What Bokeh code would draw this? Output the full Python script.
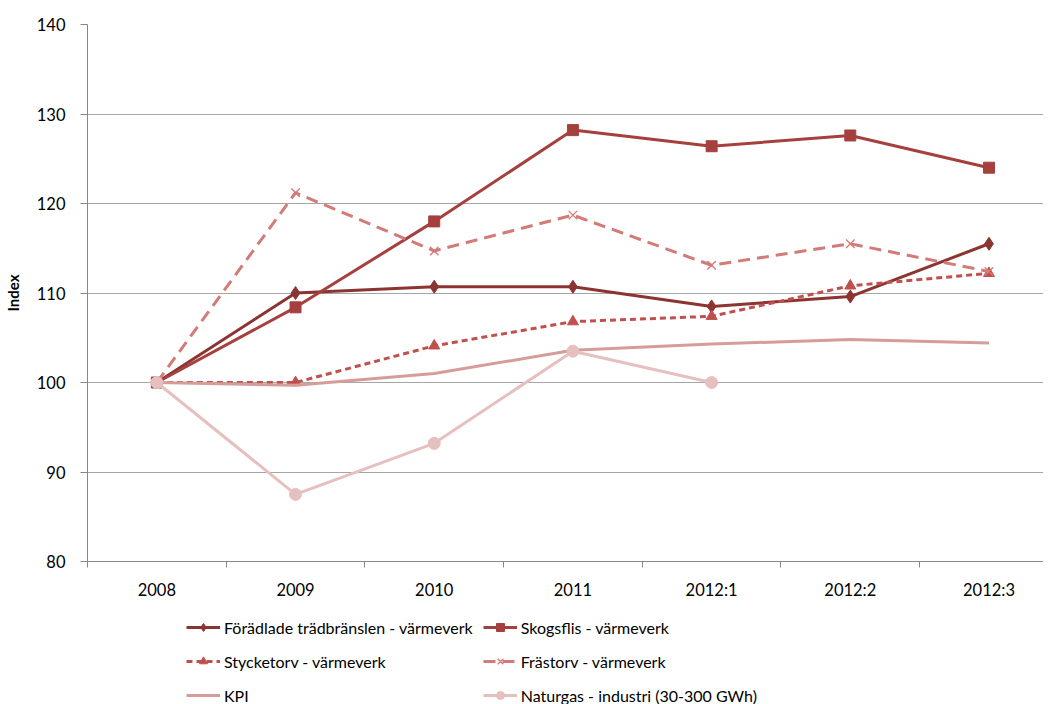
from bokeh.plotting import figure
from bokeh.layouts import column
from bokeh.models import Range1d, FixedTicker, Legend, LegendItem
from bokeh.embed import file_html
from bokeh.resources import INLINE

categories = ["2008", "2009", "2010", "2011", "2012:1", "2012:2", "2012:3"]
foradlade = [100.0, 110.0, 110.7, 110.7, 108.5, 109.6, 115.5]
skogsflis = [100.0, 108.4, 118.0, 128.2, 126.4, 127.6, 124.0]
stycketorv = [100.0, 100.0, 104.1, 106.8, 107.4, 110.8, 112.2]
frastorv = [100.0, 121.2, 114.7, 118.7, 113.1, 115.5, 112.4]
kpi = [100.0, 99.7, 101.0, 103.6, 104.3, 104.8, 104.4]
naturgas = [100.0, 87.5, 93.2, 103.5, 100.0]
y_ticks = [80, 90, 100, 110, 120, 130, 140]

FONT = "Lato"
xs = list(range(len(categories)))

series = [
    ("Förädlade trädbränslen - värmeverk", foradlade, "#8c3431", None, "diamond", 13),
    ("Skogsflis - värmeverk", skogsflis, "#a5403e", None, "square", 11),
    ("Stycketorv - värmeverk", stycketorv, "#c0504d", "6 4", "triangle", 11),
    ("Frästorv - värmeverk", frastorv, "#d27b78", "12 7", "x", 12),
    ("KPI", kpi, "#d69c9a", None, None, 0),
    ("Naturgas - industri (30-300 GWh)", naturgas, "#e5c0bf", None, "circle", 12),
]


def add_series(fig):
    items = []
    for name, vals, col, dash, marker, size in series:
        x = xs[:len(vals)]
        kw = {}
        if dash:
            kw["line_dash"] = dash
        r = fig.line(x, vals, line_color=col, line_width=3, **kw)
        rs = [r]
        if marker:
            if marker == "x":
                s = fig.scatter(x, vals, marker="x", size=size, line_color=col, line_width=1.3)
            else:
                s = fig.scatter(x, vals, marker=marker, size=size, fill_color=col, line_color=col)
            rs.append(s)
        items.append(LegendItem(label=name, renderers=rs))
    return items


p = figure(width=1043, height=606, output_backend="svg", toolbar_location=None,
           x_range=Range1d(-0.5, 6.393), y_range=Range1d(80, 140),
           min_border_left=78, min_border_top=24, min_border_right=0, min_border_bottom=45)
p.outline_line_color = None

p.xaxis.ticker = FixedTicker(ticks=xs, minor_ticks=[i - 0.5 for i in range(8)])
p.xaxis.major_label_overrides = {i: c for i, c in enumerate(categories)}
p.xaxis.major_tick_out = 0
p.xaxis.major_tick_in = 0
p.xaxis.minor_tick_out = 6
p.xaxis.minor_tick_in = 0
p.xaxis.minor_tick_line_color = "#868686"
p.xaxis.axis_line_color = "#868686"
p.xaxis.major_label_standoff = 12
p.xaxis.major_label_text_font = FONT
p.xaxis.major_label_text_font_size = "16.5px"
p.xaxis.major_label_text_color = "#000000"

p.yaxis.ticker = FixedTicker(ticks=y_ticks, minor_ticks=[])
p.yaxis.major_tick_out = 7
p.yaxis.major_tick_in = 0
p.yaxis.major_tick_line_color = "#868686"
p.yaxis.axis_line_color = "#868686"
p.yaxis.major_label_standoff = 15
p.yaxis.major_label_text_font = FONT
p.yaxis.major_label_text_font_size = "16.5px"
p.yaxis.major_label_text_color = "#000000"
p.yaxis.axis_label = "Index"
p.yaxis.axis_label_text_font = FONT
p.yaxis.axis_label_text_font_style = "bold"
p.yaxis.axis_label_text_font_size = "15px"
p.yaxis.axis_label_text_color = "#000000"
p.yaxis.axis_label_standoff = 12

p.xgrid.grid_line_color = None
p.ygrid.grid_line_color = "#a6a6a6"
p.ygrid.grid_line_width = 1

add_series(p)

# legend figure (its renderers sit outside the visible ranges)
q = figure(width=1043, height=98, output_backend="svg", toolbar_location=None,
           x_range=Range1d(-100, -99), y_range=Range1d(-100, -99),
           x_axis_type=None, y_axis_type=None,
           min_border_left=78, min_border_top=0, min_border_right=0, min_border_bottom=0)
q.outline_line_color = None
q.xgrid.grid_line_color = None
q.ygrid.grid_line_color = None
items = add_series(q)
# row-major order: column one gets items 0, 2, 4; column two gets 1, 3, 5
ordered = [items[0], items[2], items[4], items[1], items[3], items[5]]

legend = Legend(items=ordered, ncols=2, location=(99, -3), orientation="vertical")
legend.border_line_color = None
legend.background_fill_alpha = 0
legend.label_text_font = FONT
legend.label_text_font_size = "16px"
legend.label_text_color = "#000000"
legend.glyph_width = 34
legend.glyph_height = 20
legend.label_height = 24
legend.label_standoff = 4
legend.spacing = 10
legend.padding = 0
legend.margin = 0
q.add_layout(legend, "center")

layout = column(p, q, spacing=0)
open("out.html", "w").write(file_html(layout, INLINE))
